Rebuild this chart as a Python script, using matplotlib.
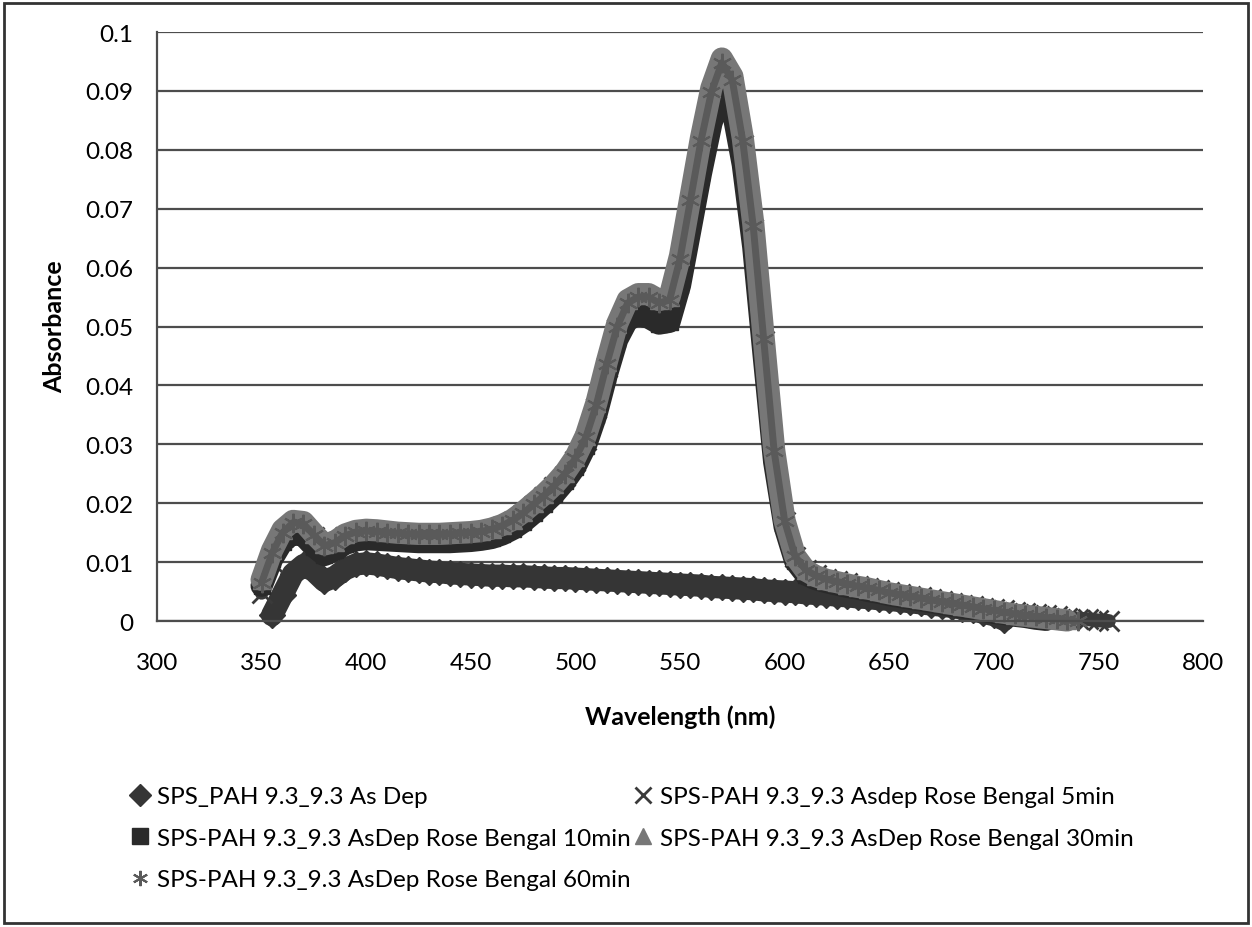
import matplotlib.pyplot as plt
import numpy as np
from matplotlib.lines import Line2D
from matplotlib.patches import Rectangle

plt.rcParams['font.family'] = ['Lato', 'DejaVu Sans']

nan = np.nan
wavelength = list(range(350, 760, 5))

as_dep = [nan, 0.0010, 0.0045, 0.0080, 0.0095, 0.0085, 0.0068, 0.0075, 0.0088, 0.0096,
          0.0098, 0.0096, 0.0093, 0.0090, 0.0088, 0.0086, 0.0084, 0.0083, 0.0081, 0.0080,
          0.0079, 0.0078, 0.0077, 0.0077, 0.0076, 0.0076, 0.0075, 0.0074, 0.0073, 0.0073,
          0.0072, 0.0071, 0.0070, 0.0069, 0.0068, 0.0067, 0.0066, 0.0065, 0.0064, 0.0063,
          0.0062, 0.0061, 0.0060, 0.0058, 0.0057, 0.0056, 0.0055, 0.0054, 0.0052, 0.0051,
          0.0050, 0.0049, 0.0047, 0.0046, 0.0045, 0.0043, 0.0042, 0.0040, 0.0039, 0.0037,
          0.0036, 0.0034, 0.0032, 0.0030, 0.0028, 0.0026, 0.0024, 0.0021, 0.0018, 0.0014,
          0.0010, 0.0002, nan, nan, nan, nan, nan, nan, nan, nan,
          nan, nan]

rb_5min = [0.0048, 0.0100, 0.0142, 0.0162, 0.0160, 0.0142, 0.0125, 0.0130, 0.0142, 0.0148,
           0.0150, 0.0149, 0.0147, 0.0146, 0.0145, 0.0144, 0.0144, 0.0144, 0.0145, 0.0146,
           0.0147, 0.0149, 0.0153, 0.0159, 0.0168, 0.0180, 0.0195, 0.0210, 0.0227, 0.0247,
           0.0272, 0.0308, 0.0362, 0.0432, 0.0495, 0.0535, 0.0545, 0.0545, 0.0535, 0.0540,
           0.0608, 0.0705, 0.0802, 0.0885, 0.0935, 0.0908, 0.0808, 0.0665, 0.0475, 0.0285,
           0.0168, 0.0108, 0.0086, 0.0078, 0.0072, 0.0068, 0.0064, 0.0060, 0.0056, 0.0053,
           0.0049, 0.0046, 0.0043, 0.0040, 0.0037, 0.0034, 0.0031, 0.0028, 0.0025, 0.0022,
           0.0020, 0.0018, 0.0016, 0.0014, 0.0012, 0.0010, 0.0008, 0.0006, 0.0004, 0.0003,
           0.0001, 0.0000]

rb_10min = [0.0060, 0.0105, 0.0135, 0.0148, 0.0145, 0.0126, 0.0112, 0.0120, 0.0131, 0.0137,
            0.0139, 0.0138, 0.0137, 0.0136, 0.0135, 0.0134, 0.0134, 0.0134, 0.0134, 0.0135,
            0.0136, 0.0138, 0.0141, 0.0147, 0.0156, 0.0168, 0.0183, 0.0199, 0.0216, 0.0237,
            0.0262, 0.0298, 0.0350, 0.0418, 0.0478, 0.0512, 0.0520, 0.0515, 0.0505, 0.0508,
            0.0570, 0.0665, 0.0760, 0.0845, 0.0900, 0.0870, 0.0775, 0.0635, 0.0450, 0.0270,
            0.0160, 0.0102, 0.0079, 0.0071, 0.0066, 0.0062, 0.0058, 0.0055, 0.0051, 0.0048,
            0.0044, 0.0041, 0.0038, 0.0035, 0.0032, 0.0029, 0.0026, 0.0023, 0.0020, 0.0017,
            0.0014, 0.0012, 0.0009, 0.0007, 0.0004, 0.0002, nan, nan, nan, nan,
            nan, nan]

rb_30min = [0.0070, 0.0120, 0.0155, 0.0170, 0.0168, 0.0148, 0.0130, 0.0135, 0.0147, 0.0153,
            0.0155, 0.0154, 0.0152, 0.0150, 0.0149, 0.0148, 0.0148, 0.0148, 0.0149, 0.0150,
            0.0151, 0.0153, 0.0157, 0.0163, 0.0172, 0.0185, 0.0200, 0.0215, 0.0232, 0.0252,
            0.0278, 0.0315, 0.0370, 0.0440, 0.0505, 0.0545, 0.0555, 0.0555, 0.0545, 0.0550,
            0.0620, 0.0720, 0.0820, 0.0905, 0.0955, 0.0925, 0.0820, 0.0675, 0.0480, 0.0290,
            0.0170, 0.0110, 0.0086, 0.0076, 0.0070, 0.0066, 0.0062, 0.0058, 0.0055, 0.0051,
            0.0047, 0.0044, 0.0041, 0.0038, 0.0035, 0.0032, 0.0029, 0.0026, 0.0023, 0.0020,
            0.0017, 0.0014, 0.0011, 0.0009, 0.0007, 0.0005, 0.0003, 0.0001, nan, nan,
            nan, nan]

rb_60min = [0.0065, 0.0115, 0.0150, 0.0167, 0.0165, 0.0146, 0.0128, 0.0133, 0.0145, 0.0151,
            0.0153, 0.0152, 0.0150, 0.0149, 0.0148, 0.0147, 0.0147, 0.0147, 0.0148, 0.0149,
            0.0150, 0.0152, 0.0156, 0.0162, 0.0171, 0.0183, 0.0198, 0.0213, 0.0230, 0.0250,
            0.0276, 0.0312, 0.0367, 0.0437, 0.0500, 0.0540, 0.0550, 0.0550, 0.0540, 0.0545,
            0.0615, 0.0715, 0.0815, 0.0898, 0.0948, 0.0918, 0.0815, 0.0670, 0.0478, 0.0288,
            0.0170, 0.0110, 0.0087, 0.0077, 0.0071, 0.0067, 0.0063, 0.0059, 0.0056, 0.0052,
            0.0048, 0.0045, 0.0042, 0.0039, 0.0036, 0.0033, 0.0030, 0.0027, 0.0024, 0.0021,
            0.0018, 0.0015, 0.0012, 0.0010, 0.0008, 0.0006, 0.0004, 0.0002, 0.0000, nan,
            nan, nan]

labels = ["SPS_PAH 9.3_9.3 As Dep",
          "SPS-PAH 9.3_9.3 Asdep Rose Bengal 5min",
          "SPS-PAH 9.3_9.3 AsDep Rose Bengal 10min",
          "SPS-PAH 9.3_9.3 AsDep Rose Bengal 30min",
          "SPS-PAH 9.3_9.3 AsDep Rose Bengal 60min"]

x_ticks = [300, 350, 400, 450, 500, 550, 600, 650, 700, 750, 800]
y_ticks = [0, 0.01, 0.02, 0.03, 0.04, 0.05, 0.06, 0.07, 0.08, 0.09, 0.1]
y_tick_labels = ["0", "0.01", "0.02", "0.03", "0.04", "0.05", "0.06", "0.07", "0.08", "0.09", "0.1"]

grid_col = "#4d4d4d"
styles = [
    dict(color="#353535", marker="D", ms=13, lw=16),
    dict(color="#3a3a3a", marker="x", ms=14, mew=2, lw=10),
    dict(color="#2a2a2a", marker="s", ms=12, lw=16),
    dict(color="#777777", marker="^", ms=13, lw=16),
    dict(color="#5a5a5a", marker=(6, 2, 0), ms=14, mew=1.5, lw=5),
]
series = [as_dep, rb_5min, rb_10min, rb_30min, rb_60min]

fig = plt.figure(figsize=(12.52, 9.28), dpi=100)
ax = fig.add_axes([0.1254, 0.3297, 0.8355, 0.6347])

for vals, st in zip(series, styles):
    ax.plot(wavelength, vals, clip_on=False, solid_capstyle="round", **st)

ax.set_xlim(300, 800)
ax.set_ylim(0, 0.1)
ax.set_xticks(x_ticks)
ax.set_yticks(y_ticks)
ax.set_yticklabels(y_tick_labels)
ax.tick_params(axis="both", length=0, labelsize=17.5)
ax.tick_params(axis="x", pad=22)
ax.tick_params(axis="y", pad=17)
ax.yaxis.grid(True, color=grid_col, lw=1.6)
ax.set_axisbelow(True)
for s in ["top", "right"]:
    ax.spines[s].set_visible(False)
for s in ["left", "bottom"]:
    ax.spines[s].set_color(grid_col)
    ax.spines[s].set_linewidth(1.6)

fig.text(680 / 1252, 1 - 717 / 928, "Wavelength (nm)", fontsize=18, fontweight="bold",
         ha="center", va="center")
fig.text(55 / 1252, 1 - 327 / 928, "Absorbance", fontsize=18, fontweight="bold",
         rotation=90, ha="center", va="center")

handles = [Line2D([], [], ls="none", marker=st["marker"], color=st["color"],
                  ms=11, mew=st.get("mew", 1)) for st in styles]
order = [0, 2, 4, 1, 3]
fig.legend([handles[i] for i in order], [labels[i] for i in order], ncol=2,
           loc="upper left", bbox_to_anchor=(130 / 1252, 1 - 787 / 928),
           frameon=False, fontsize=17.5, handlelength=0.8, handletextpad=0.3,
           columnspacing=0.1, labelspacing=0.85, borderaxespad=0, borderpad=0)

fig.patches.append(Rectangle((0.003, 0.004), 0.994, 0.992, transform=fig.transFigure,
                             fill=False, ec="#333333", lw=2))

fig.savefig("out.png", dpi=100)
